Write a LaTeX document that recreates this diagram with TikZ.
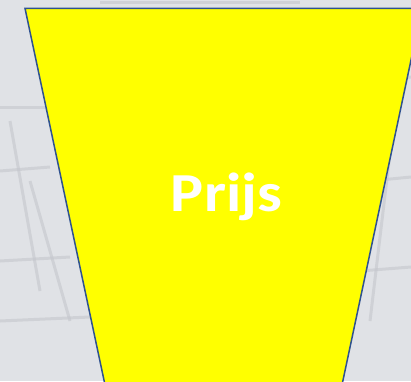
\documentclass[tikz,border=0pt]{standalone}
\usepackage{fontspec}
\setmainfont{Carlito}
\definecolor{bggrey}{RGB}{224,226,230}
\definecolor{bgline}{RGB}{196,198,204}
\definecolor{edgeblue}{RGB}{47,82,143}
\definecolor{fillyellow}{RGB}{255,255,0}
\tikzset{
  bgstroke/.style={draw=bgline, line width=3pt, opacity=0.6},
  funnel/.style={fill=fillyellow, draw=edgeblue, line width=1.5pt, line join=miter},
  labeltext/.style={text=white, font=\bfseries\fontsize{55}{60}\selectfont, inner sep=0pt, anchor=base, xscale=1.13}
}
\begin{document}
\begin{tikzpicture}[x=1pt,y=1pt]
  \useasboundingbox (0,0) rectangle (411,381);
  \clip (0,0) rectangle (411,381);
  \fill[bggrey] (0,0) rectangle (411,381);
  % faint background texture
  \draw[bgstroke] (0,274) -- (60,274);
  \draw[bgstroke] (0,210) -- (50,214);
  \draw[bgstroke] (0,120) -- (70,124);
  \draw[bgstroke] (10,260) -- (40,90);
  \draw[bgstroke] (30,200) -- (70,60);
  \draw[bgstroke] (0,60) -- (90,64);
  \draw[bgstroke] (380,300) -- (411,304);
  \draw[bgstroke] (370,200) -- (411,204);
  \draw[bgstroke] (360,110) -- (411,114);
  \draw[bgstroke] (395,270) -- (370,60);
  \draw[bgstroke] (100,378) -- (300,378);
  % funnel
  \coordinate (tl) at (25,372.7);
  \coordinate (tr) at (422,372.7);
  \coordinate (br) at (340.7,-10);
  \coordinate (bl) at (106.3,-10);
  \draw[funnel] (bl) -- (tl) -- (tr) -- (br);
  \node[labeltext] (prijs) at (226.5,170) {Prijs};
\end{tikzpicture}
\end{document}
